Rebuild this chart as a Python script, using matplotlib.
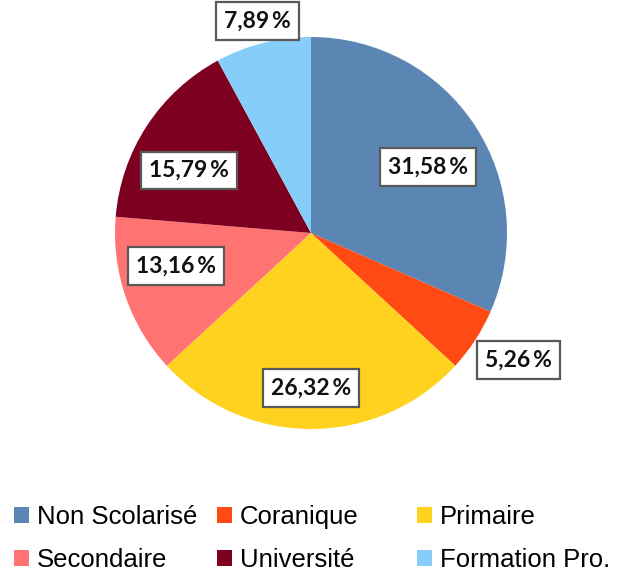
import matplotlib
matplotlib.use("Agg")
import matplotlib.pyplot as plt
import numpy as np
from matplotlib.patches import Patch

categories = ["Non Scolarisé", "Coranique", "Primaire", "Secondaire", "Université", "Formation Pro."]
values = [31.58, 5.26, 26.32, 13.16, 15.79, 7.89]
labels = ["31,58\u2009%", "5,26\u2009%", "26,32\u2009%", "13,16\u2009%", "15,79\u2009%", "7,89\u2009%"]
colors = ["#5B86B3", "#FF4A14", "#FFD21F", "#FF7373", "#7D0021", "#87CDFA"]
label_dist = [0.685, 1.24, 0.79, 0.71, 0.70, 1.115]
label_shift = [-3.8, 1.7, 0, -5.3, 6.1, 0]

fig = plt.figure(figsize=(6.17, 5.74), dpi=100)
cx, cy, r = 311, 574 - 233, 196
ax = fig.add_axes([(cx - r) / 617, (cy - r) / 574, 2 * r / 617, 2 * r / 574])
wedges, _ = ax.pie(values, colors=colors, startangle=90, counterclock=False,
                   radius=1, wedgeprops=dict(linewidth=0))
ax.set_xlim(-1, 1)
ax.set_ylim(-1, 1)
ax.set_aspect("equal")
ax.axis("off")

for w, lab, d, s in zip(wedges, labels, label_dist, label_shift):
    ang = np.deg2rad((w.theta1 + w.theta2) / 2 + s)
    ax.text(d * np.cos(ang), d * np.sin(ang), lab, ha="center", va="center",
            fontsize=16.5, fontweight="bold", family=["Lato", "DejaVu Sans"],
            color="#111111", clip_on=False,
            bbox=dict(boxstyle="square,pad=0.36", facecolor="white",
                      edgecolor="#595959", linewidth=1.6))

handles = [Patch(facecolor=c, edgecolor="none") for c in colors]
col_x = [15, 218, 418]
for j, x in enumerate(col_x):
    idx = [j, j + 3]
    fig.legend([handles[i] for i in idx], [categories[i] for i in idx],
               loc="upper left", bbox_to_anchor=((x - 1) / 617, 1 - 505 / 574),
               frameon=False, prop=dict(family="Liberation Sans", size=18.5),
               handlelength=0.6, handleheight=0.6, handletextpad=0.3,
               labelspacing=0.75, borderpad=0, borderaxespad=0)
fig.savefig("out.png", dpi=100)
